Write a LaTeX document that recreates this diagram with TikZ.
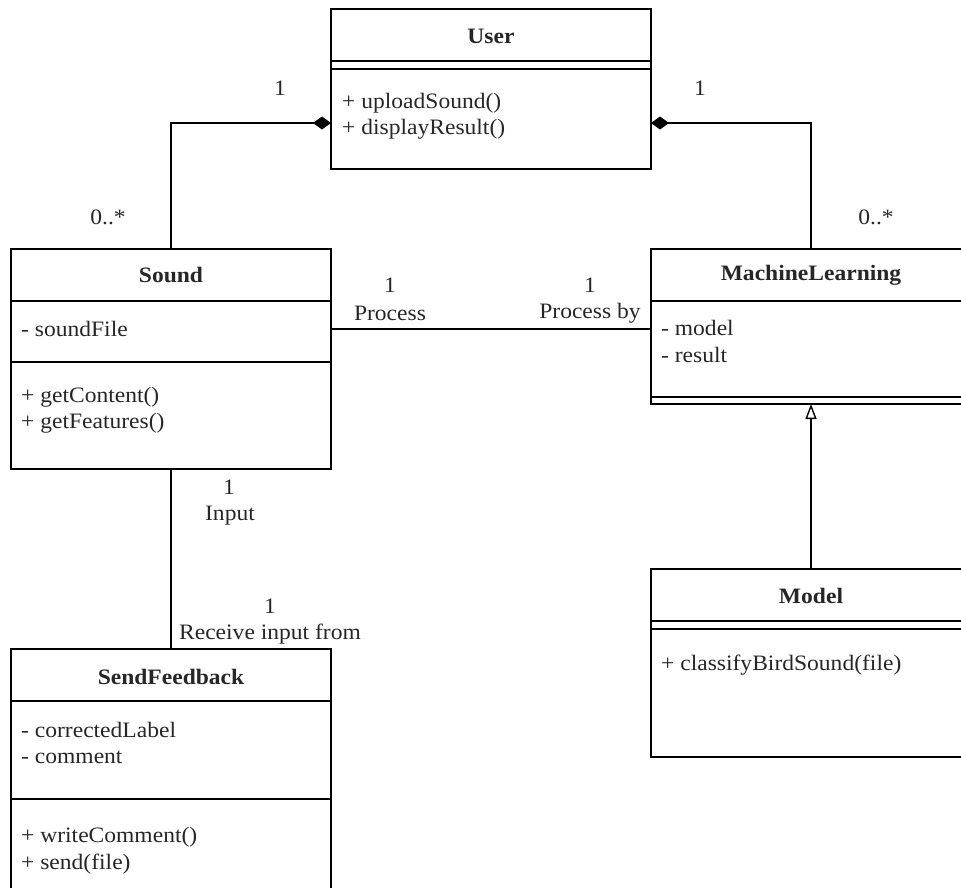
\documentclass[tikz,border=0pt]{standalone}
\usepackage{fontspec}
\setmainfont{Liberation Serif}[FakeStretch=1.07]
\usetikzlibrary{arrows.meta,calc}

\tikzset{
  classbox/.style={draw, line width=1.4pt, minimum width=320pt, inner sep=0pt, outer sep=0pt},
  txt/.style={inner sep=0pt, font=\fontsize{22}{26}\selectfont, text=black!85},
  title/.style={txt, font=\fontsize{22}{26}\selectfont\bfseries},
  member/.style={txt, anchor=west},
  sep/.style={line width=1.4pt},
  conn/.style={line width=1.4pt},
  compos/.style={conn, -{Diamond[length=18pt,width=13pt]}},
  inherit/.style={conn, -{Triangle[open,length=15pt,width=11pt,line width=1.4pt]}},
}

\begin{document}
\begin{tikzpicture}[x=1pt,y=-1pt]
\useasboundingbox (0,0) rectangle (961,888);
\clip (0,0) rectangle (961,888);

% ---- User ----
\node[classbox, minimum height=160pt] (user) at (491,89) {};
\draw[sep] (331,61) -- (651,61);
\draw[sep] (331,69) -- (651,69);
\node[title] (userT) at (491,36) {User};
\node[member] (userM1) at (342,103) {+ uploadSound()};
\node[member] (userM2) at (342,129) {+ displayResult()};

% ---- Sound ----
\node[classbox, minimum height=220pt] (sound) at (171,359) {};
\draw[sep] (11,301) -- (331,301);
\draw[sep] (11,362) -- (331,362);
\node[title] (soundT) at (171,275) {Sound};
\node[member] (soundA1) at (21,329) {- soundFile};
\node[member] (soundM1) at (21,397) {+ getContent()};
\node[member] (soundM2) at (21,423) {+ getFeatures()};

% ---- MachineLearning ----
\node[classbox, minimum height=155pt] (ml) at (811,326.5) {};
\draw[sep] (651,301) -- (971,301);
\draw[sep] (651,397) -- (971,397);
\node[title] (mlT) at (811,275) {MachineLearning};
\node[member] (mlA1) at (661,328) {- model};
\node[member] (mlA2) at (661,355) {- result};

% ---- Model ----
\node[classbox, minimum height=188pt] (model) at (811,663) {};
\draw[sep] (651,621) -- (971,621);
\draw[sep] (651,629) -- (971,629);
\node[title] (modelT) at (811,596) {Model};
\node[member] (modelM1) at (661,665) {+ classifyBirdSound(file)};

% ---- SendFeedback ----
\node[classbox, minimum height=260pt] (feedback) at (171,779) {};
\draw[sep] (11,701) -- (331,701);
\draw[sep] (11,799) -- (331,799);
\node[title] (feedbackT) at (171,677) {SendFeedback};
\node[member] (feedbackA1) at (21,730) {- correctedLabel};
\node[member] (feedbackA2) at (21,757) {- comment};
\node[member] (feedbackM1) at (21,837) {+ writeComment()};
\node[member] (feedbackM2) at (21,864) {+ send(file)};

% ---- connectors ----
\coordinate (rowProc) at (0,329);
\draw[compos] (sound.north) |- ([yshift=-34pt]user.west);
\draw[compos] (ml.north) |- ([yshift=-34pt]user.east);
\draw[conn] (sound.east |- rowProc) -- (ml.west |- rowProc);
\draw[conn] (sound.south) -- (feedback.north);
\draw[inherit] (model.north) -- (ml.south);

% ---- multiplicities and roles ----
\node[txt] (mUserL) at (280,88) {1};
\node[txt] (mSoundU) at (108,217) {0..*};
\node[txt] (mUserR) at (700,88) {1};
\node[txt] (mMlU) at (876,217) {0..*};
\node[txt] (mProcA) at (390,285) {1};
\node[txt] (rProcA) at (390,313) {Process};
\node[txt] (mProcB) at (590,285) {1};
\node[txt] (rProcB) at (590,313) {Process by};
\node[txt] (mInA) at (229,487) {1};
\node[txt] (rInA) at (230,516) {Input};
\node[txt] (mInB) at (270,606) {1};
\node[txt] (rInB) at (270,634) {Receive input from};
\end{tikzpicture}
\end{document}
